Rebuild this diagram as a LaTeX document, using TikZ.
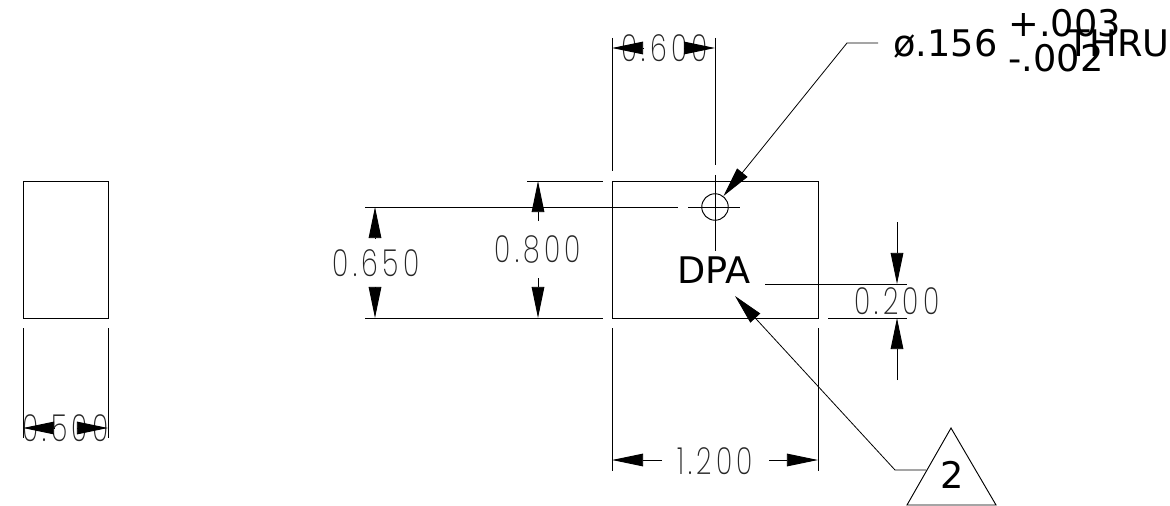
\documentclass[tikz,border=0pt]{standalone}
\usepackage{fontspec}
\usetikzlibrary{arrows.meta}
\setmainfont{DejaVu Sans}
\newfontfamily\dimfont[LetterSpace=16]{Poppins ExtraLight}
\tikzset{
  x=0.75pt,y=-0.75pt,
  every path/.style={line width=0.7pt},
  dimarrow/.style={draw=black,line width=0.7pt,-{Triangle[length=23.4pt,width=9.5pt]}},
  leader/.style={draw=black,line width=0.6pt,-{Triangle[length=22.5pt,width=10pt]}},
  thinline/.style={draw=black,line width=0.7pt},
  noteline/.style={font=\fontsize{27.5pt}{27.5pt}\selectfont,inner sep=0pt,anchor=base west},
  dimtext/.style={font=\dimfont\fontsize{28pt}{28pt}\selectfont,inner sep=0pt,anchor=center,xscale=0.72,text=black!85}
}
\begin{document}
\begin{tikzpicture}
\useasboundingbox (0,0) rectangle (1170,506);
% outlines
\draw[thinline] (23,181) rectangle (108,318);
\draw[thinline] (612,181) rectangle (818,318);
% hole
\coordinate (hole) at (715,207);
\node[draw=black,line width=0.7pt,circle,minimum size=26.5pt*0.75,inner sep=0pt] (holec) at (hole) {};
% extension and centre lines
\draw[thinline] (23,328) -- (23,438) (108,328) -- (108,438);
\draw[thinline] (612,38) -- (612,171) (612,328) -- (612,471) (818,328) -- (818,471);
\draw[thinline] (715,38) -- (715,165) (715,175) -- (715,251);
\draw[thinline] (365,207) -- (678,207) (688,207) -- (740,207);
\draw[thinline] (527,181) -- (603,181);
\draw[thinline] (365,318) -- (603,318);
\draw[thinline] (765,284) -- (907,284);
\draw[thinline] (828,318) -- (907,318);
% dimension text
\node[dimtext] (d500) at (65.5,428) {0.500};
\node[dimtext] (d600) at (664.5,48) {0.600};
\node[dimtext] (d650) at (376,263) {0.650};
\node[dimtext] (d800) at (538,250) {0.800};
\node[dimtext] (d200) at (897,301) {0.200};
\node[dimtext] (d1200) at (715,461) {1.200};
% dimension arrows
\draw[dimarrow] (54,428) -- (23,428);
\draw[dimarrow] (77,428) -- (108,428);
\draw[dimarrow] (644,48) -- (612,48);
\draw[dimarrow] (684,48) -- (715,48);
\draw[dimarrow] (375,238) -- (375,207);
\draw[dimarrow] (375,287) -- (375,318);
\draw[dimarrow] (538,221) -- (538,181);
\draw[dimarrow] (538,278) -- (538,318);
\draw[dimarrow] (897,222) -- (897,284);
\draw[dimarrow] (897,380) -- (897,318);
\draw[dimarrow] (662,460) -- (612,460);
\draw[dimarrow] (769,460) -- (818,460);
% notes
\node[noteline] (dia) at (893,57) {ø.156};
\node[noteline] (plus) at (1008,37) {+.003};
\node[noteline] (minus) at (1008,72) {-.002};
\node[noteline] (thru) at (1067,57) {THRU};
\node[noteline] (dpa) at (677,283) {DPA};
% triangle flag
\coordinate (ta) at (951,428);
\coordinate (tb) at (907,505);
\coordinate (tc) at (996,505);
\draw[thinline] (ta) -- (tb) -- (tc) -- cycle;
\node[noteline,anchor=base] (two) at (952,488) {2};
% leaders
\coordinate (kneeA) at (847,43);
\coordinate (startA) at (878,43);
\coordinate (tipA) at (723.5,196);
\draw[leader] (startA) -- (kneeA) -- (tipA);
\coordinate (kneeB) at (895,470);
\coordinate (startB) at (926,470);
\coordinate (tipB) at (735,296);
\draw[leader] (startB) -- (kneeB) -- (tipB);
\end{tikzpicture}
\end{document}
